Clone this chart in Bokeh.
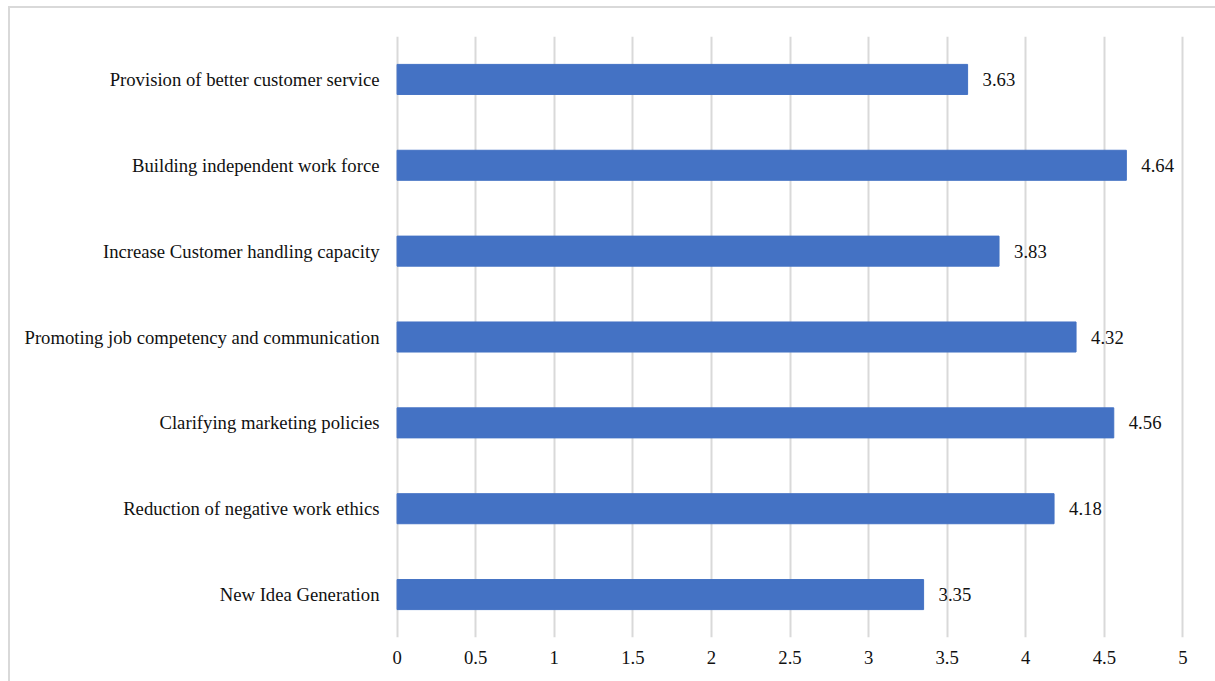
from bokeh.plotting import figure
from bokeh.models import ColumnDataSource, FactorRange, Range1d, FixedTicker, LabelSet
from bokeh.embed import file_html
from bokeh.resources import INLINE

categories = [
    "Provision of better customer service",
    "Building independent work force",
    "Increase Customer handling capacity",
    "Promoting job competency and communication",
    "Clarifying marketing policies",
    "Reduction of negative work ethics",
    "New Idea Generation",
]
values = [3.63, 4.64, 3.83, 4.32, 4.56, 4.18, 3.35]
x_ticks = [0, 0.5, 1, 1.5, 2, 2.5, 3, 3.5, 4, 4.5, 5]

FONT = "Liberation Serif"
FS = "18.7px"

src = ColumnDataSource(dict(cat=categories, val=values, lab=[f"{v:.2f}" for v in values]))

p = figure(
    width=1215, height=681,
    y_range=FactorRange(factors=list(reversed(categories))),
    x_range=Range1d(-0.01, 5.01),
    output_backend="svg", toolbar_location=None,
    min_border_left=395, min_border_right=31, min_border_top=36, min_border_bottom=44,
)
p.border_fill_color = None
p.background_fill_color = None
p.styles = {
    "background": "linear-gradient(#d9d9d9,#d9d9d9) 8px 6px / 100% 2px no-repeat, "
                  "linear-gradient(#d9d9d9,#d9d9d9) 8px 6px / 2px 100% no-repeat, #ffffff"
}

p.hbar(y="cat", right="val", left=0, height=0.35, source=src, fill_color="#4472C4", line_color="#4472C4")

labels = LabelSet(x="val", y="cat", text="lab", source=src, x_offset=15, y_offset=0,
                  text_baseline="middle", text_font=FONT, text_font_size=FS, text_color="#111111")
p.add_layout(labels)

p.xaxis.ticker = FixedTicker(ticks=x_ticks)
p.xaxis.major_label_overrides = {t: (str(int(t)) if float(t).is_integer() else str(t)) for t in x_ticks}
p.xaxis.axis_line_color = None
p.xaxis.major_tick_line_color = None
p.xaxis.minor_tick_line_color = None
p.xaxis.major_label_text_font = FONT
p.xaxis.major_label_text_font_size = FS
p.xaxis.major_label_text_color = "#111111"
p.xaxis.major_label_standoff = 7

p.yaxis.axis_line_color = None
p.yaxis.major_tick_line_color = None
p.yaxis.minor_tick_line_color = None
p.yaxis.major_label_text_font = FONT
p.yaxis.major_label_text_font_size = FS
p.yaxis.major_label_text_color = "#111111"
p.yaxis.major_label_standoff = 10

p.ygrid.grid_line_color = None
p.xgrid.grid_line_color = "#d9d9d9"
p.xgrid.grid_line_width = 2
p.outline_line_color = None

open("out.html", "w").write(file_html(p, INLINE))
